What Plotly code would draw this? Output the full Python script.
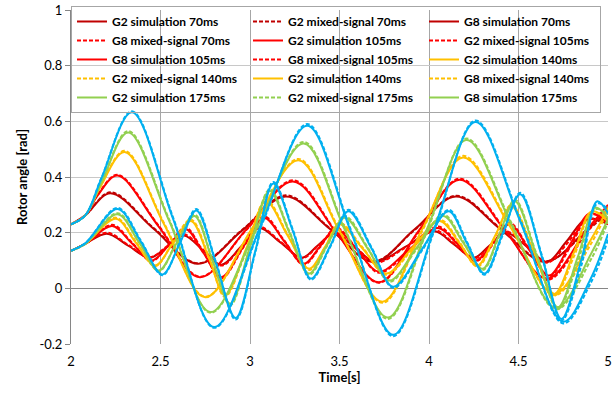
import plotly.graph_objects as go

# ---------------- data ----------------
# G2 curves (start at 0.23 rad), one time grid per delay
T_G2_70 = [2.00, 2.08, 2.22, 2.46, 2.71, 2.96, 3.20, 3.45, 3.69, 3.92, 4.15, 4.40, 4.65, 4.88, 5.00]
G2_SIM_70 = [0.230, 0.262, 0.342, 0.215, 0.088, 0.210, 0.330, 0.212, 0.095, 0.212, 0.330, 0.212, 0.095, 0.210, 0.280]
G2_MIX_70 = [0.230, 0.262, 0.345, 0.218, 0.090, 0.212, 0.334, 0.214, 0.097, 0.210, 0.333, 0.215, 0.097, 0.205, 0.275]

T_G2_105 = [2.00, 2.08, 2.15, 2.26, 2.49, 2.72, 2.98, 3.24, 3.48, 3.72, 3.94, 4.17, 4.42, 4.66, 4.88, 5.00]
G2_SIM_105 = [0.230, 0.262, 0.335, 0.405, 0.222, 0.040, 0.212, 0.384, 0.202, 0.022, 0.205, 0.390, 0.212, 0.035, 0.210, 0.300]
G2_MIX_105 = [0.230, 0.262, 0.337, 0.408, 0.225, 0.042, 0.210, 0.388, 0.205, 0.020, 0.200, 0.394, 0.216, 0.030, 0.200, 0.295]

T_G2_140 = [2.00, 2.08, 2.16, 2.30, 2.52, 2.75, 3.01, 3.27, 3.50, 3.74, 3.96, 4.19, 4.45, 4.70, 4.90, 5.00]
G2_SIM_140 = [0.230, 0.262, 0.360, 0.490, 0.230, -0.032, 0.214, 0.460, 0.205, -0.048, 0.210, 0.470, 0.225, -0.020, 0.170, 0.290]
G2_MIX_140 = [0.230, 0.262, 0.362, 0.494, 0.234, -0.030, 0.210, 0.465, 0.210, -0.052, 0.204, 0.476, 0.230, -0.025, 0.155, 0.280]

T_G2_175 = [2.00, 2.08, 2.17, 2.32, 2.55, 2.78, 3.04, 3.30, 3.53, 3.77, 3.99, 4.21, 4.46, 4.71, 4.91, 5.00]
G2_SIM_175 = [0.230, 0.262, 0.380, 0.560, 0.240, -0.085, 0.220, 0.520, 0.210, -0.105, 0.215, 0.533, 0.230, -0.070, 0.130, 0.250]
G2_MIX_175 = [0.230, 0.262, 0.382, 0.565, 0.245, -0.088, 0.215, 0.526, 0.215, -0.110, 0.208, 0.538, 0.236, -0.075, 0.110, 0.240]

T_G2_210 = [2.00, 2.08, 2.17, 2.34, 2.57, 2.80, 3.06, 3.32, 3.56, 3.80, 4.03, 4.26, 4.51, 4.75, 4.90, 5.00]
G2_SIM_210 = [0.230, 0.262, 0.395, 0.633, 0.250, -0.139, 0.225, 0.584, 0.210, -0.167, 0.215, 0.598, 0.240, -0.120, 0.030, 0.195]
G2_MIX_210 = [0.230, 0.262, 0.397, 0.636, 0.255, -0.142, 0.220, 0.590, 0.216, -0.172, 0.208, 0.603, 0.246, -0.126, 0.015, 0.175]

# G8 curves (start at 0.135 rad)
T_G8_70 = [2.00, 2.08, 2.20, 2.32, 2.44, 2.54, 2.63, 2.74, 2.84, 2.95, 3.05, 3.17, 3.29, 3.38, 3.47, 3.59, 3.70, 3.87, 4.03, 4.14, 4.25, 4.34, 4.43, 4.55, 4.66, 4.77, 4.88, 5.00]
G8_SIM_70 = [0.135, 0.160, 0.196, 0.153, 0.110, 0.150, 0.190, 0.135, 0.085, 0.150, 0.217, 0.165, 0.110, 0.155, 0.196, 0.145, 0.095, 0.150, 0.205, 0.158, 0.110, 0.155, 0.200, 0.148, 0.095, 0.170, 0.250, 0.230]
G8_MIX_70 = [0.135, 0.160, 0.200, 0.156, 0.112, 0.153, 0.194, 0.138, 0.082, 0.148, 0.221, 0.168, 0.108, 0.152, 0.200, 0.148, 0.092, 0.147, 0.209, 0.161, 0.107, 0.151, 0.204, 0.151, 0.092, 0.160, 0.245, 0.240]

T_G8_105 = [2.00, 2.08, 2.23, 2.34, 2.45, 2.55, 2.64, 2.74, 2.84, 2.96, 3.08, 3.19, 3.30, 3.39, 3.48, 3.60, 3.72, 3.89, 4.05, 4.16, 4.26, 4.36, 4.45, 4.56, 4.67, 4.79, 4.90, 5.00]
G8_SIM_105 = [0.135, 0.160, 0.224, 0.162, 0.100, 0.157, 0.213, 0.127, 0.040, 0.147, 0.253, 0.170, 0.088, 0.150, 0.213, 0.137, 0.060, 0.140, 0.217, 0.158, 0.100, 0.165, 0.230, 0.138, 0.046, 0.160, 0.270, 0.230]
G8_MIX_105 = [0.135, 0.160, 0.228, 0.165, 0.098, 0.160, 0.218, 0.130, 0.036, 0.144, 0.258, 0.173, 0.085, 0.147, 0.218, 0.140, 0.056, 0.136, 0.222, 0.161, 0.097, 0.160, 0.235, 0.141, 0.042, 0.150, 0.265, 0.245]

T_G8_140 = [2.00, 2.08, 2.25, 2.36, 2.47, 2.57, 2.67, 2.77, 2.86, 2.98, 3.09, 3.21, 3.33, 3.42, 3.50, 3.63, 3.76, 3.91, 4.06, 4.17, 4.27, 4.37, 4.46, 4.58, 4.70, 4.81, 4.91, 5.00]
G8_SIM_140 = [0.135, 0.160, 0.250, 0.166, 0.082, 0.162, 0.242, 0.110, -0.025, 0.144, 0.313, 0.190, 0.070, 0.150, 0.230, 0.142, 0.053, 0.148, 0.242, 0.162, 0.082, 0.190, 0.295, 0.138, -0.020, 0.130, 0.277, 0.240]
G8_MIX_140 = [0.135, 0.160, 0.254, 0.170, 0.080, 0.166, 0.247, 0.114, -0.030, 0.140, 0.318, 0.194, 0.066, 0.147, 0.235, 0.146, 0.049, 0.143, 0.247, 0.166, 0.078, 0.184, 0.300, 0.142, -0.026, 0.115, 0.272, 0.255]

T_G8_175 = [2.00, 2.08, 2.26, 2.38, 2.49, 2.59, 2.69, 2.79, 2.89, 3.00, 3.11, 3.22, 3.33, 3.43, 3.53, 3.66, 3.78, 3.93, 4.08, 4.19, 4.30, 4.39, 4.48, 4.60, 4.72, 4.83, 4.93, 5.00]
G8_SIM_175 = [0.135, 0.160, 0.266, 0.165, 0.064, 0.162, 0.260, 0.100, -0.055, 0.150, 0.350, 0.200, 0.053, 0.155, 0.254, 0.140, 0.028, 0.145, 0.260, 0.165, 0.070, 0.190, 0.313, 0.120, -0.068, 0.110, 0.290, 0.250]
G8_MIX_175 = [0.135, 0.160, 0.270, 0.169, 0.061, 0.166, 0.265, 0.104, -0.060, 0.145, 0.355, 0.205, 0.049, 0.151, 0.259, 0.144, 0.024, 0.140, 0.265, 0.170, 0.066, 0.183, 0.318, 0.125, -0.074, 0.092, 0.284, 0.265]

T_G8_210 = [2.00, 2.08, 2.26, 2.39, 2.51, 2.61, 2.70, 2.81, 2.92, 3.03, 3.13, 3.24, 3.34, 3.45, 3.55, 3.68, 3.80, 3.96, 4.11, 4.21, 4.31, 4.41, 4.51, 4.63, 4.74, 4.85, 4.94, 5.00]
G8_SIM_210 = [0.135, 0.162, 0.285, 0.168, 0.050, 0.165, 0.280, 0.090, -0.107, 0.135, 0.377, 0.205, 0.035, 0.155, 0.277, 0.142, 0.006, 0.140, 0.277, 0.165, 0.053, 0.195, 0.338, 0.115, -0.110, 0.100, 0.313, 0.270]
G8_MIX_210 = [0.135, 0.162, 0.289, 0.172, 0.047, 0.169, 0.285, 0.094, -0.112, 0.130, 0.382, 0.210, 0.031, 0.151, 0.282, 0.146, 0.002, 0.135, 0.282, 0.170, 0.049, 0.188, 0.343, 0.120, -0.116, 0.080, 0.305, 0.285]

X_TICKS = [2, 2.5, 3, 3.5, 4, 4.5, 5]
Y_TICKS = [-0.2, 0, 0.2, 0.4, 0.6, 0.8, 1]
Y_TICK_TEXT = ["-0.2", "0", "0.2", "0.4", "0.6", "0.8", "1"]

DARK_RED = "#C00000"
RED = "#FF0000"
YELLOW = "#FFC000"
GREEN = "#92D050"
BLUE = "#00B0F0"
SHORT_DASH = "4px,2px"

# (name, x, y, color, dash, show in legend)
SERIES = [
    ("G2 simulation 70ms", T_G2_70, G2_SIM_70, DARK_RED, "solid", True),
    ("G2 mixed-signal 70ms", T_G2_70, G2_MIX_70, DARK_RED, SHORT_DASH, True),
    ("G8 simulation 70ms", T_G8_70, G8_SIM_70, DARK_RED, "solid", True),
    ("G8 mixed-signal 70ms", T_G8_70, G8_MIX_70, RED, SHORT_DASH, True),
    ("G2 simulation 105ms", T_G2_105, G2_SIM_105, RED, "solid", True),
    ("G2 mixed-signal 105ms", T_G2_105, G2_MIX_105, RED, SHORT_DASH, True),
    ("G8 simulation 105ms", T_G8_105, G8_SIM_105, RED, "solid", True),
    ("G8 mixed-signal 105ms", T_G8_105, G8_MIX_105, RED, SHORT_DASH, True),
    ("G2 simulation 140ms", T_G2_140, G2_SIM_140, YELLOW, "solid", True),
    ("G2 mixed-signal 140ms", T_G2_140, G2_MIX_140, YELLOW, SHORT_DASH, True),
    ("G2 simulation 140ms", T_G8_140, G8_SIM_140, YELLOW, "solid", True),
    ("G8 mixed-signal 140ms", T_G8_140, G8_MIX_140, YELLOW, SHORT_DASH, True),
    ("G2 simulation 175ms", T_G2_175, G2_SIM_175, GREEN, "solid", True),
    ("G2 mixed-signal 175ms", T_G2_175, G2_MIX_175, GREEN, SHORT_DASH, True),
    ("G8 simulation 175ms", T_G8_175, G8_SIM_175, GREEN, "solid", True),
    ("G8 mixed-signal 175ms", T_G8_175, G8_MIX_175, GREEN, SHORT_DASH, False),
    ("G2 simulation 210ms", T_G2_210, G2_SIM_210, BLUE, "solid", False),
    ("G2 mixed-signal 210ms", T_G2_210, G2_MIX_210, BLUE, SHORT_DASH, False),
    ("G8 simulation 210ms", T_G8_210, G8_SIM_210, BLUE, "solid", False),
    ("G8 mixed-signal 210ms", T_G8_210, G8_MIX_210, BLUE, SHORT_DASH, False),
]

FONT = "Lato, 'Open Sans', sans-serif"

fig = go.Figure()
for name, xs, ys, color, dash, show in SERIES:
    fig.add_trace(go.Scatter(
        x=xs, y=ys, name=name, mode="lines",
        line=dict(color=color, width=2, dash=dash, shape="spline", smoothing=1.0),
        showlegend=show,
    ))

fig.update_layout(
    width=614, height=394,
    margin=dict(l=71, r=2, t=7, b=50),
    paper_bgcolor="white", plot_bgcolor="white",
    font=dict(family=FONT, size=13, color="#404040"),
    legend=dict(
        orientation="h", x=0.0, y=1.012, xanchor="left", yanchor="top",
        entrywidth=131, entrywidthmode="pixels",
        bgcolor="rgba(0,0,0,0)", bordercolor="#A6A6A6", borderwidth=1,
        font=dict(family=FONT, size=12, color="#000000", weight="bold"),
        tracegroupgap=0, itemwidth=30,
    ),
    xaxis=dict(
        range=[2, 5], tickvals=X_TICKS, ticktext=[str(v) for v in X_TICKS],
        showgrid=True, gridcolor="#A6A6A6", gridwidth=1,
        showline=False, zeroline=False, ticks="",
        ticklabeloverflow="allow",
        tickfont=dict(family=FONT, size=13, color="#000000"),
        ticklabelstandoff=8,
        title=dict(text="Time[s]", font=dict(family=FONT, size=13, color="#000000", weight="bold"), standoff=4),
    ),
    yaxis=dict(
        range=[-0.2, 1], tickvals=Y_TICKS, ticktext=Y_TICK_TEXT,
        showgrid=True, gridcolor="#C8C8C8", gridwidth=1,
        showline=True, linecolor="#868686", linewidth=1,
        zeroline=True, zerolinecolor="#868686", zerolinewidth=1,
        ticks="outside", ticklen=5, tickcolor="#868686",
        ticklabeloverflow="allow",
        tickfont=dict(family=FONT, size=13, color="#000000"),
        title=dict(text="Rotor angle [rad]", font=dict(family=FONT, size=13, color="#000000", weight="bold"), standoff=8),
    ),
)

fig.write_html("out.html")
